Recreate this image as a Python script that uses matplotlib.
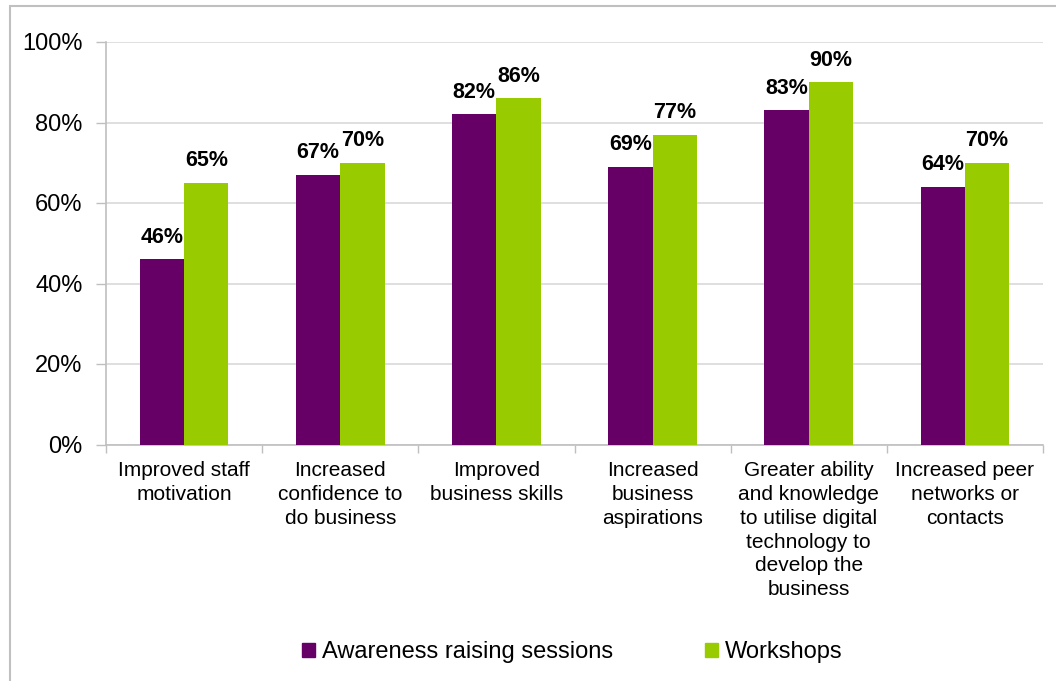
import numpy as np
import matplotlib.pyplot as plt
from matplotlib.patches import Rectangle

plt.rcParams['font.family'] = ['Liberation Sans', 'DejaVu Sans']

# survey results, share of respondents reporting each outcome
categories = [
    "Improved staff\nmotivation",
    "Increased\nconfidence to\ndo business",
    "Improved\nbusiness skills",
    "Increased\nbusiness\naspirations",
    "Greater ability\nand knowledge\nto utilise digital\ntechnology to\ndevelop the\nbusiness",
    "Increased peer\nnetworks or\ncontacts",
]
awareness = [46, 67, 82, 69, 83, 64]
workshops = [65, 70, 86, 77, 90, 70]
series_names = ["Awareness raising sessions", "Workshops"]
yticks = [0, 20, 40, 60, 80, 100]

purple = "#660066"
green = "#99cc00"
grey = "#bfbfbf"

fig = plt.figure(figsize=(10.56, 6.81), dpi=100)
ax = fig.add_axes([106/1056, 1 - 444.5/681, (1043 - 106)/1056, (444.5 - 42)/681])

x = np.arange(len(categories))
w = 0.284
b1 = ax.bar(x - w/2, awareness, w, color=purple, zorder=3)
b2 = ax.bar(x + w/2, workshops, w, color=green, zorder=3)

# value labels above each bar
for bars, vals in [(b1, awareness), (b2, workshops)]:
    for r, v in zip(bars, vals):
        ax.annotate(f"{v}%", (r.get_x() + r.get_width()/2, v),
                    xytext=(0, 12), textcoords="offset points",
                    ha="center", va="baseline", fontsize=15.5, fontweight="bold")

ax.set_xlim(-0.5, len(categories) - 0.5)
ax.set_ylim(0, 100)
ax.set_yticks(yticks)
ax.set_yticklabels([f"{t}%" for t in yticks], fontsize=17)
ax.set_xticks(x)
ax.set_xticklabels(categories, fontsize=15, va="top", linespacing=1.32)
ax.set_xticks(np.arange(-0.5, len(categories)), minor=True)

ax.tick_params(axis="x", which="major", length=0, pad=12)
ax.tick_params(axis="x", which="minor", length=6, width=1, color=grey, direction="out")
ax.tick_params(axis="y", length=7, width=1, color=grey, pad=10)

ax.grid(axis="y", color="#d9d9d9", linewidth=1.2, zorder=0)
for side in ["top", "right"]:
    ax.spines[side].set_visible(False)
for side in ["left", "bottom"]:
    ax.spines[side].set_color(grey)
    ax.spines[side].set_linewidth(1.2)

handles = [Rectangle((0, 0), 1, 1, color=purple), Rectangle((0, 0), 1, 1, color=green)]
fig.legend(handles, series_names, loc="center", bbox_to_anchor=(572/1056, 1 - 652/681),
           ncol=2, frameon=False, fontsize=17, handlelength=0.55, handleheight=0.55,
           handletextpad=0.3, columnspacing=3.9)

# light outer frame
fig.add_artist(Rectangle((10/1056, -0.1), 1.2, 0.1 + 675/681, transform=fig.transFigure,
                         fill=False, edgecolor="#c0c0c0", linewidth=1.5))

fig.savefig("out.png", dpi=100)
